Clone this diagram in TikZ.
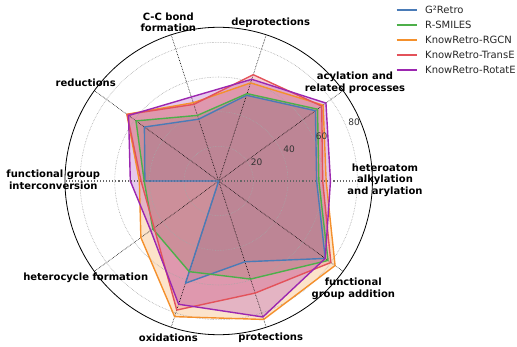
\documentclass[tikz,border=0pt]{standalone}
\usepackage{fontspec}
\setmainfont{DejaVu Sans}
\usetikzlibrary{calc}
\definecolor{cblue}{HTML}{4A7BB7}
\definecolor{cgreen}{HTML}{4DAF4A}
\definecolor{corange}{HTML}{F4902C}
\definecolor{cred}{HTML}{E3525A}
\definecolor{cpurple}{HTML}{9C27B0}
\tikzset{
  gridring/.style={gray!70, densely dotted, line width=0.6pt},
  spoke/.style={black, densely dotted, line width=0.6pt},
  hspoke/.style={gray!80!black, dotted, line width=1.1pt},
  seriesfill/.style={fill=#1, fill opacity=0.25},
  seriesline/.style={#1, line width=1.4pt, line join=round},
  axlabel/.style={font=\fontsize{10}{11.7}\selectfont\bfseries, align=center, inner sep=0pt},
  ticklabel/.style={font=\fontsize{9}{10}\selectfont, inner sep=0pt, text=black!80},
  legline/.style={#1, line width=1.6pt},
  legtext/.style={font=\fontsize{10}{12}\selectfont, anchor=west, inner sep=0pt, text=black!85}
}
\def\pBlue{(0:56.5) -- (36:69) -- (72:52) -- (108:37.5) -- (144:53) -- (180:42.6) -- (216:0) -- (252:62) -- (288:49) -- (324:76) -- cycle}
\def\pGreen{(0:57.8) -- (36:70.5) -- (72:53) -- (108:39.8) -- (144:59) -- (180:43) -- (216:47) -- (252:55) -- (288:59.5) -- (324:78) -- cycle}
\def\pOrange{(0:62) -- (36:74.5) -- (72:59.5) -- (108:47.5) -- (144:65.5) -- (180:45.8) -- (216:55.5) -- (252:82.3) -- (288:84) -- (324:83) -- cycle}
\def\pRed{(0:60) -- (36:73.5) -- (72:64.5) -- (108:46.5) -- (144:65.3) -- (180:44.8) -- (216:46) -- (252:78.3) -- (288:68) -- (324:80) -- cycle}
\def\pPurple{(0:64.5) -- (36:76.5) -- (72:61.7) -- (108:51) -- (144:64.3) -- (180:51) -- (216:48.5) -- (252:74.8) -- (288:82.5) -- (324:76) -- cycle}
\begin{document}
\begin{tikzpicture}[x=1pt,y=1pt]
\useasboundingbox (0,0) rectangle (517,346);
\coordinate (C) at (218.7,165);
\begin{scope}[shift={(C)}, x=1.733pt, y=1.733pt]
  \fill[seriesfill=cblue] \pBlue;
  \fill[seriesfill=cgreen] \pGreen;
  \fill[seriesfill=corange] \pOrange;
  \fill[seriesfill=cred] \pRed;
  \fill[seriesfill=cpurple] \pPurple;
  \foreach \r in {20,40,60,80} \draw[gridring] (0,0) circle[radius=\r];
  \foreach \a in {36,72,108,144,216,252,288,324} \draw[spoke] (0,0) -- (\a:88.7);
  \draw[hspoke] (0,0) -- (0:88.7);
  \draw[hspoke] (0,0) -- (180:88.7);
  \draw[seriesline=cblue] \pBlue;
  \draw[seriesline=cgreen] \pGreen;
  \draw[seriesline=corange] \pOrange;
  \draw[seriesline=cred] \pRed;
  \draw[seriesline=cpurple] \pPurple;
  \draw[black, line width=0.8pt] (0,0) circle[radius=88.7];
\end{scope}
\node[ticklabel] (t20) at (256.7,183.3) {20};
\node[ticklabel] (t40) at (289,197) {40};
\node[ticklabel] (t60) at (321.7,210) {60};
\node[ticklabel] (t80) at (354,223.3) {80};
\node[axlabel] (l0) at (385,166) {heteroatom\\alkylation\\and arylation};
\node[axlabel] (l1) at (355,263.3) {acylation and\\related processes};
\node[axlabel] (l2) at (270.7,323.3) {deprotections};
\node[axlabel] (l3) at (168.3,323.7) {C-C bond\\formation};
\node[axlabel] (l4) at (85.7,263.3) {reductions};
\node[axlabel] (l5) at (53.3,166) {functional group\\interconversion};
\node[axlabel] (l6) at (85.7,68.7) {heterocycle formation};
\node[axlabel] (l7) at (168.3,8.3) {oxidations};
\node[axlabel] (l8) at (270.7,8.3) {protections};
\node[axlabel] (l9) at (353.3,57) {functional\\group addition};
\coordinate (g1a) at (396.7,336); \coordinate (g1b) at (416.7,336);
\coordinate (g2a) at (396.7,321); \coordinate (g2b) at (416.7,321);
\coordinate (g3a) at (396.7,306); \coordinate (g3b) at (416.7,306);
\coordinate (g4a) at (396.7,291); \coordinate (g4b) at (416.7,291);
\coordinate (g5a) at (396.7,276); \coordinate (g5b) at (416.7,276);
\draw[legline=cblue] (g1a) -- (g1b);
\draw[legline=cgreen] (g2a) -- (g2b);
\draw[legline=corange] (g3a) -- (g3b);
\draw[legline=cred] (g4a) -- (g4b);
\draw[legline=cpurple] (g5a) -- (g5b);
\node[legtext] (n1) at (425,336) {G²Retro};
\node[legtext] (n2) at (425,321) {R-SMILES};
\node[legtext] (n3) at (425,306) {KnowRetro-RGCN};
\node[legtext] (n4) at (425,291) {KnowRetro-TransE};
\node[legtext] (n5) at (425,276) {KnowRetro-RotatE};
\end{tikzpicture}
\end{document}
